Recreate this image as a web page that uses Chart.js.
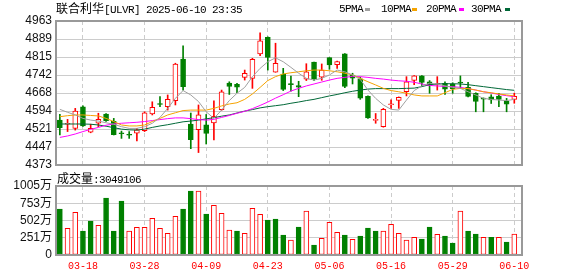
<!DOCTYPE html>
<html>
<head>
<meta charset="utf-8">
<script src="https://cdn.jsdelivr.net/npm/chart.js@4.4.1/dist/chart.umd.min.js"></script>
<style>
  body { margin: 0; background: #fff; width: 578px; height: 276px; position: relative; overflow: hidden; }
  canvas { position: absolute; left: 0; }
  #priceChart { top: 0; }
  #volumeChart { top: 170px; }
  .txt { position: absolute; font-family: "Liberation Mono", monospace; font-size: 11px; letter-spacing: -0.6px;
         line-height: 12px; color: #000; white-space: nowrap; }
  .cjk { font-family: "Noto Sans CJK SC", sans-serif; font-size: 12px; letter-spacing: 0; }
  .dash { position: absolute; width: 5px; height: 3px; top: 8px; }
</style>
</head>
<body>
<canvas id="priceChart" width="578" height="170"></canvas>
<canvas id="volumeChart" width="578" height="106"></canvas>

<div class="txt" style="left:56px; top:2px;"><span class="cjk">联合利华</span>[ULVR] 2025-06-10 23:35</div>
<div class="txt" style="left:339px; top:3px;">5PMA</div>
<div class="dash" style="left:365px; background:#a0a0a0;"></div>
<div class="txt" style="left:381px; top:3px;">10PMA</div>
<div class="dash" style="left:412px; background:#f5a300;"></div>
<div class="txt" style="left:426px; top:3px;">20PMA</div>
<div class="dash" style="left:459px; background:#ff00ff;"></div>
<div class="txt" style="left:471px; top:3px;">30PMA</div>
<div class="dash" style="left:505px; background:#006838;"></div>
<div class="txt" style="left:57px; top:172px;"><span class="cjk">成交量</span>:3049106</div>

<script>
// trading days shown (LSE, 2025)
const dates = ["03-13","03-14","03-17","03-18","03-19","03-20","03-21","03-24","03-25","03-26",
  "03-27","03-28","03-31","04-01","04-02","04-03","04-04","04-07","04-08","04-09",
  "04-10","04-11","04-14","04-15","04-16","04-17","04-22","04-23","04-24","04-25",
  "04-28","04-29","04-30","05-01","05-02","05-06","05-07","05-08","05-09","05-12",
  "05-13","05-14","05-15","05-16","05-19","05-20","05-21","05-22","05-23","05-27",
  "05-28","05-29","05-30","06-02","06-03","06-04","06-05","06-06","06-09","06-10"];

const openP = [4557,4540,4523,4611,4508,4544,4582,4552,4505,4498,
  4503,4514,4582,4624,4612,4637,4807,4541,4518,4538,
  4545,4600,4709,4704,4732,4728,4828,4896,4753,4746,
  4705,4698,4725,4795,4733,4813,4784,4828,4741,4726,
  4654,4556,4530,4620,4638,4673,4720,4738,4714,4703,
  4708,4705,4712,4691,4667,4645,4652,4655,4634,4642];
const highP = [4581,4560,4605,4615,4540,4585,4584,4564,4512,4510,
  4523,4591,4632,4653,4660,4790,4861,4586,4619,4580,
  4636,4680,4714,4708,4762,4810,4915,4898,4872,4769,
  4737,4716,4788,4795,4787,4813,4799,4830,4749,4733,
  4656,4584,4605,4640,4652,4735,4739,4739,4719,4735,
  4714,4710,4738,4712,4669,4648,4661,4667,4646,4667];
const lowP = [4496,4510,4516,4531,4505,4530,4552,4496,4482,4482,
  4472,4510,4578,4612,4598,4619,4680,4440,4424,4459,
  4476,4597,4662,4669,4721,4687,4821,4762,4753,4678,
  4675,4653,4719,4720,4720,4765,4769,4690,4705,4642,
  4564,4544,4528,4605,4605,4656,4702,4695,4667,4680,
  4662,4667,4686,4652,4591,4591,4625,4612,4591,4626];
const closeP = [4526,4542,4594,4533,4523,4560,4555,4497,4501,4495,
  4517,4587,4609,4621,4642,4787,4694,4477,4579,4502,
  4572,4673,4695,4692,4749,4806,4882,4814,4790,4683,
  4702,4692,4755,4727,4762,4783,4797,4695,4729,4647,
  4566,4558,4601,4623,4650,4714,4738,4711,4698,4707,
  4684,4686,4709,4654,4633,4643,4640,4642,4622,4654];

// volume in 万 shares; 1 = up day (red), 0 = down day (green)
const volume = [670,389,622,350,495,432,830,350,787,350,
  403,403,534,389,316,563,670,932,932,597,
  724,607,364,350,316,680,593,510,524,291,
  219,408,641,146,243,476,330,291,228,277,
  393,350,350,447,316,219,257,233,408,301,
  277,175,641,350,306,257,257,257,189,305];
const volUp = [0,1,1,0,0,1,0,0,0,1, 1,1,1,1,1,1,0,0,1,0,
  1,1,1,0,1,1,1,0,0,0, 1,0,1,0,1,1,1,0,1,0,
  0,0,1,1,1,1,1,0,0,1, 0,0,1,0,0,1,0,1,0,1];

const ma5 = [4601,4589,4578,4564,4557,4553,4546,4540,4530,4523,
  4523,4530,4544,4568,4605,4646,4678,4660,4633,4591,
  4564,4598,4637,4667,4691,4735,4769,4796,4812,4796,
  4773,4749,4728,4721,4728,4742,4762,4755,4742,4724,
  4680,4646,4619,4601,4598,4639,4678,4697,4708,4705,
  4697,4691,4687,4673,4660,4646,4642,4639,4637,4642];
const ma10 = [4571,4575,4578,4578,4576,4574,4564,4551,4537,4533,
  4533,4537,4551,4564,4578,4587,4596,4598,4598,4598,
  4605,4615,4623,4628,4642,4664,4691,4719,4735,4746,
  4751,4755,4759,4762,4762,4759,4755,4749,4742,4728,
  4714,4701,4687,4678,4673,4667,4660,4656,4656,4656,
  4669,4683,4687,4686,4680,4673,4669,4664,4660,4656];
const ma20 = [4486,4492,4500,4510,4519,4527,4536,4541,4544,4546,
  4548,4551,4555,4559,4563,4566,4566,4563,4559,4557,
  4560,4568,4576,4585,4593,4604,4617,4631,4647,4661,
  4676,4687,4697,4705,4713,4721,4728,4732,4736,4735,
  4732,4728,4725,4721,4718,4716,4712,4705,4699,4697,
  4695,4694,4691,4686,4680,4673,4668,4662,4657,4653];
const ma30 = [4541,4541,4541,4541,4540,4537,4532,4526,4520,4517,
  4516,4520,4527,4533,4538,4544,4550,4553,4557,4562,
  4567,4573,4578,4586,4594,4600,4607,4612,4616,4620,
  4626,4631,4637,4642,4649,4656,4662,4669,4675,4680,
  4684,4686,4686,4686,4686,4687,4688,4694,4702,4705,
  4706,4706,4705,4702,4698,4694,4690,4686,4682,4679];

const priceTicks = ["4373","4447","4521","4594","4668","4742","4815","4889","4963"];
const volTicks = ["0","251万","502万","753万","1005万"];
const dateTickIdx = [3, 11, 19, 27, 35, 43, 51, 59];

const UP = "#ff0000";
const DOWN = "#008000";
const GRID = "#cccccc";

const idx = dates.map((d, i) => i);
const isUp = idx.map(i => closeP[i] >= openP[i]);

// plot box border
const framePlugin = {
  id: "frame",
  afterDraw(chart) {
    const { ctx, chartArea: a } = chart;
    ctx.save();
    ctx.strokeStyle = "#999";
    ctx.lineWidth = 2;
    ctx.strokeRect(a.left, a.top, a.right - a.left, a.bottom - a.top);
    ctx.restore();
  }
};

function xScale(showLabels) {
  return {
    type: "linear",
    min: -0.5,
    max: 60,
    offset: false,
    afterBuildTicks: ax => { ax.ticks = dateTickIdx.map(v => ({ value: v })); },
    ticks: {
      display: showLabels,
      autoSkip: false,
      maxRotation: 0,
      padding: 5,
      color: UP,
      font: { family: "'Liberation Mono', monospace", size: 10 },
      callback: v => dates[v]
    },
    grid: { color: GRID, drawTicks: false, offset: false },
    border: { display: false, dash: [4, 3] },
    afterFit: ax => {
      ax.height = showLabels ? 21 : 0;
      ax.paddingLeft = 0; ax.paddingRight = 0;
    }
  };
}

function maLine(label, data, color) {
  return {
    type: "line", label: label,
    data: idx.map(i => ({ x: i, y: data[i] })),
    borderColor: color, borderWidth: 1, pointRadius: 0, order: 0
  };
}

new Chart(document.getElementById("priceChart"), {
  data: {
    datasets: [
      maLine("5PMA", ma5, "#a0a0a0"),
      maLine("10PMA", ma10, "#f5a300"),
      maLine("20PMA", ma20, "#ff00ff"),
      maLine("30PMA", ma30, "#006838"),
      {
        type: "bar", label: "body",
        data: idx.map(i => ({ x: i, y: [openP[i], closeP[i]] })),
        backgroundColor: isUp.map(u => u ? "#fff" : DOWN),
        borderColor: isUp.map(u => u ? UP : DOWN),
        borderWidth: 1, borderSkipped: false, barThickness: 5, minBarLength: 1,
        grouped: false, order: 5
      },
      {
        type: "bar", label: "wick",
        data: idx.map(i => ({ x: i, y: [lowP[i], highP[i]] })),
        backgroundColor: isUp.map(u => u ? UP : DOWN),
        barThickness: 1, grouped: false, order: 6
      }
    ]
  },
  options: {
    responsive: false,
    animation: false,
    devicePixelRatio: 1,
    events: [],
    layout: { padding: { top: 21, right: 56, bottom: 5, left: 0 } },
    plugins: { legend: { display: false }, tooltip: { enabled: false } },
    scales: {
      x: xScale(false),
      y: {
        min: 4373, max: 4963,
        afterBuildTicks: ax => { ax.ticks = priceTicks.map((t, k) => ({ value: 4373 + k * 590 / 8 })); },
        ticks: {
          autoSkip: false, padding: 4, color: "#111",
          font: { family: "'Liberation Sans', sans-serif", size: 12 },
          callback: (v, k) => priceTicks[k]
        },
        grid: { color: GRID, drawTicks: false },
        border: { display: false },
        afterFit: ax => { ax.width = 56; ax.paddingTop = 0; ax.paddingBottom = 0; }
      }
    }
  },
  plugins: [framePlugin]
});

new Chart(document.getElementById("volumeChart"), {
  type: "bar",
  data: {
    datasets: [{
      label: "volume",
      data: idx.map(i => ({ x: i, y: volume[i] })),
      backgroundColor: volUp.map(u => u ? "#fff" : DOWN),
      borderColor: volUp.map(u => u ? UP : DOWN),
      borderWidth: 1, borderSkipped: false, barThickness: 5, grouped: false
    }]
  },
  options: {
    responsive: false,
    animation: false,
    devicePixelRatio: 1,
    events: [],
    layout: { padding: { top: 16, right: 56, bottom: 0, left: 0 } },
    plugins: { legend: { display: false }, tooltip: { enabled: false } },
    scales: {
      x: xScale(true),
      y: {
        min: 0, max: 1005,
        afterBuildTicks: ax => { ax.ticks = volTicks.map((t, k) => ({ value: k * 1005 / 4 })); },
        ticks: {
          autoSkip: false, padding: 4, color: "#111",
          font: { family: "'Liberation Sans', 'Noto Sans CJK SC', sans-serif", size: 12 },
          callback: (v, k) => volTicks[k]
        },
        grid: { color: GRID, drawTicks: false },
        border: { display: false },
        afterFit: ax => { ax.width = 56; ax.paddingTop = 0; ax.paddingBottom = 0; }
      }
    }
  },
  plugins: [framePlugin]
});
</script>
</body>
</html>
